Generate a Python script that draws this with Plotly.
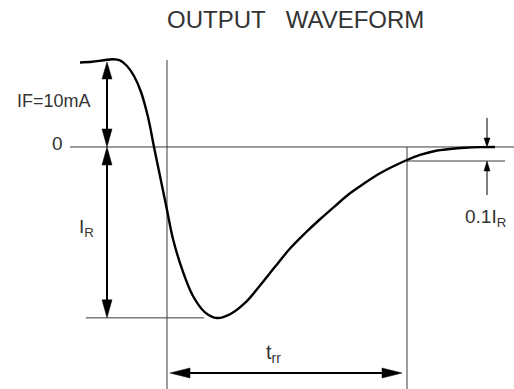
import plotly.graph_objects as go

# ---------------- data (time in arbitrary units, current in mA) ----------------
t_curve = [80, 92, 104, 113, 120, 127, 134, 141, 148, 154, 160, 167, 173, 182,
           193, 205, 217, 230, 245, 260, 275, 290, 305, 320, 335, 350, 365, 380,
           395, 407, 420, 435, 450, 465, 480, 495]
i_curve = [9.94, 10.02, 10.21, 10.32, 10.18, 9.53, 8.35, 6.47, 3.53, 0.0,
           -3.41, -7.41, -10.82, -14.35, -17.53, -19.45, -20.12, -19.68, -18.35,
           -16.3, -14.1, -11.95, -10.15, -8.5, -6.95, -5.45, -4.22, -3.09,
           -2.18, -1.53, -0.94, -0.47, -0.24, -0.09, -0.02, 0.0]

IF_LEVEL = 10.0        # forward current, mA
ZERO_LEVEL = 0.0
IR_LEVEL = -20.1       # peak reverse current, mA
TENTH_IR_LEVEL = -1.65 # 0.1 IR level
T_SWITCH = 167         # switching instant
T_RR_END = 407         # end of trr

TITLE = "OUTPUT\u00a0\u00a0\u00a0WAVEFORM"
LABEL_IF = "IF=10mA"
LABEL_ZERO = "0"
LABEL_IR = "I<sub>R</sub>"
LABEL_TENTH = "0.1I<sub>R</sub>"
LABEL_TRR = "t<sub>rr</sub>"

# ---------------- geometry / style ----------------
W, H = 514, 389
X_RANGE = [0, 514]
Y_RANGE = [-28.47, 17.29]
PX_Y = H / (Y_RANGE[1] - Y_RANGE[0])   # pixels per mA
PX_X = W / (X_RANGE[1] - X_RANGE[0])


def dy(px):
    return px / PX_Y


def dx(px):
    return px / PX_X


TXT = "#333333"
THIN = "#3a3a3a"
FONT = "Liberation Sans, Arial, sans-serif"

fig = go.Figure()

fig.add_trace(go.Scatter(x=t_curve, y=i_curve, mode="lines",
                         line=dict(color="black", width=2.4, shape="spline",
                                   smoothing=1.0),
                         hoverinfo="skip", showlegend=False))

shapes = []


def line(x0, y0, x1, y1, color=THIN, width=1):
    shapes.append(dict(type="line", xref="x", yref="y", x0=x0, y0=y0, x1=x1,
                       y1=y1, line=dict(color=color, width=width), layer="below"))


def head(xt, yt, direction, length_px, half_px):
    # direction: 'up','down','left','right'; (xt, yt) is tip
    if direction == "up":
        p = [(xt, yt), (xt - dx(half_px), yt - dy(length_px)), (xt + dx(half_px), yt - dy(length_px))]
    elif direction == "down":
        p = [(xt, yt), (xt - dx(half_px), yt + dy(length_px)), (xt + dx(half_px), yt + dy(length_px))]
    elif direction == "left":
        p = [(xt, yt), (xt + dx(length_px), yt + dy(half_px)), (xt + dx(length_px), yt - dy(half_px))]
    else:
        p = [(xt, yt), (xt - dx(length_px), yt + dy(half_px)), (xt - dx(length_px), yt - dy(half_px))]
    path = "M {} {} L {} {} L {} {} Z".format(p[0][0], p[0][1], p[1][0], p[1][1], p[2][0], p[2][1])
    shapes.append(dict(type="path", xref="x", yref="y", path=path,
                       fillcolor="black", line=dict(color="black", width=0.5)))


# reference lines
line(70, ZERO_LEVEL, 514, ZERO_LEVEL)
line(T_SWITCH, IF_LEVEL + dy(2), T_SWITCH, Y_RANGE[0])
line(T_RR_END, ZERO_LEVEL, T_RR_END, Y_RANGE[0])
line(86, IR_LEVEL, 204, IR_LEVEL)
line(T_RR_END, TENTH_IR_LEVEL, 505, TENTH_IR_LEVEL)

# IF arrow
AX = 107
line(AX, IF_LEVEL - dy(10), AX, ZERO_LEVEL + dy(10), color="black", width=2)
head(AX, IF_LEVEL, "up", 17, 5)
head(AX, ZERO_LEVEL, "down", 18, 5)
# IR arrow
line(AX, ZERO_LEVEL - dy(10), AX, IR_LEVEL + dy(10), color="black", width=2)
head(AX, ZERO_LEVEL, "up", 18, 5)
head(AX, IR_LEVEL, "down", 18, 5)
# trr arrow
TRR_Y = -26.59
line(T_SWITCH + 3 + 10, TRR_Y, T_RR_END - 5 - 10, TRR_Y, color="black", width=2)
head(T_SWITCH + 3, TRR_Y, "left", 20, 5)
head(T_RR_END - 5, TRR_Y, "right", 20, 5)
# 0.1 IR small arrows
SX = 487
line(SX, ZERO_LEVEL + dy(29), SX, ZERO_LEVEL + dy(6), color="black", width=1)
head(SX, ZERO_LEVEL, "down", 9, 3)
line(SX, TENTH_IR_LEVEL - dy(34), SX, TENTH_IR_LEVEL - dy(6), color="black", width=1)
head(SX, TENTH_IR_LEVEL, "up", 10, 3)


def text(x, y, s, size=19, xanchor="center", yanchor="middle"):
    fig.add_annotation(x=x, y=y, xref="x", yref="y", text=s, showarrow=False,
                       xanchor=xanchor, yanchor=yanchor,
                       font=dict(family=FONT, size=size, color=TXT))


text(295, (147 - 20) / PX_Y, TITLE, size=24)
text(54, (147 - 101) / PX_Y, LABEL_IF, size=18)
text(57, (147 - 144) / PX_Y, LABEL_ZERO)
text(86, (147 - 228) / PX_Y, LABEL_IR)
text(485, (147 - 218) / PX_Y, LABEL_TENTH)
text(273, (147 - 354) / PX_Y, LABEL_TRR, size=20)

fig.update_layout(
    width=W, height=H, margin=dict(l=0, r=0, t=0, b=0),
    paper_bgcolor="white", plot_bgcolor="white", shapes=shapes,
    xaxis=dict(range=X_RANGE, visible=False, fixedrange=True),
    yaxis=dict(range=Y_RANGE, visible=False, fixedrange=True),
    showlegend=False,
)

fig.write_html("out.html", config={"displayModeBar": False},
               post_script="document.body.style.margin='0';document.body.style.overflow='hidden';")
